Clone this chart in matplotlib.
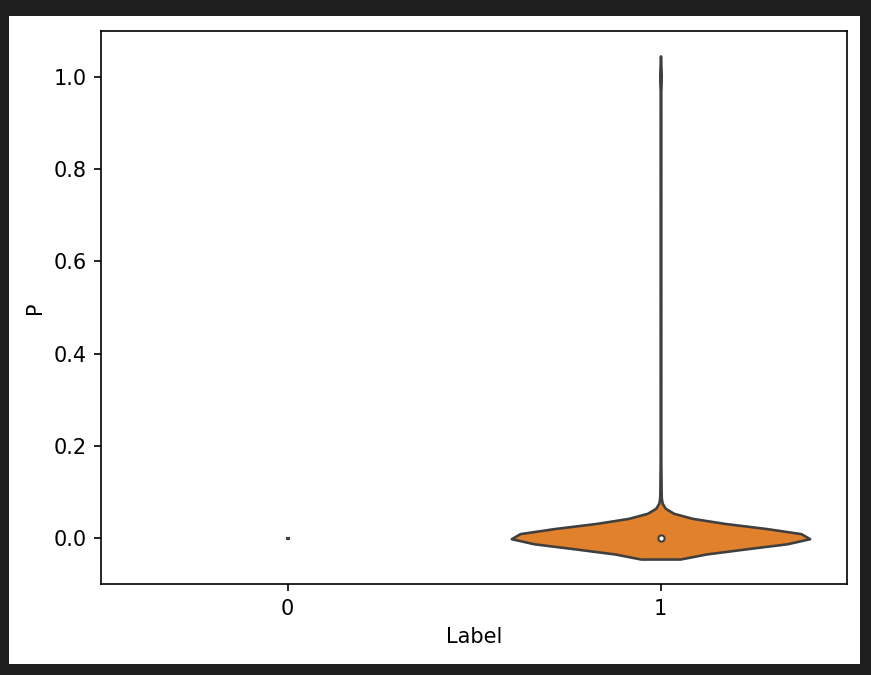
import matplotlib

matplotlib.use("Agg")

import matplotlib.pyplot as plt
import numpy as np
import pandas as pd
import seaborn as sns
from matplotlib.patches import Rectangle

# P values observed per label, stored as (value, count) pairs
label0_values = [0.0]
label0_counts = [4]

label1_values = [0.0, 0.01, 0.02, 0.03, 0.08, 0.1, 0.12, 0.15, 0.2, 0.3, 0.4, 0.5, 0.65, 0.8, 1.0]
label1_counts = [600, 15, 15, 12, 1, 1, 1, 1, 1, 1, 1, 1, 1, 1, 3]

labels = ["0", "1"]
palette = ["C0", "C1"]
GRAY = "#3f3f3f"
LW = 1.5

df = pd.DataFrame(
    {
        "Label": [labels[0]] * sum(label0_counts) + [labels[1]] * sum(label1_counts),
        "P": np.concatenate(
            [np.repeat(label0_values, label0_counts), np.repeat(label1_values, label1_counts)]
        ),
    }
)

DPI = 150
fig = plt.figure(figsize=(871 / DPI, 675 / DPI), dpi=DPI)
fig.patch.set_facecolor("#1e1e1e")
# white canvas inside the dark screenshot frame
fig.add_artist(
    Rectangle(
        (9 / 871, 1 - 664 / 675),
        851 / 871,
        648 / 675,
        transform=fig.transFigure,
        facecolor="white",
        edgecolor="none",
        zorder=-1,
    )
)

ax = fig.add_axes([101 / 871, 1 - 584 / 675, 746 / 871, 553 / 675])

# groups with a single unique value have no density; seaborn only gets the others
groups = {lab: df.loc[df["Label"] == lab, "P"].to_numpy() for lab in labels}
kde_labels = [lab for lab in labels if np.unique(groups[lab]).size > 1]
sns.violinplot(
    data=df[df["Label"].isin(kde_labels)],
    x="Label",
    y="P",
    hue="Label",
    order=labels,
    hue_order=labels,
    palette=palette,
    inner=None,
    linecolor=GRAY,
    legend=False,
    ax=ax,
)

max_count = max(len(v) for v in groups.values())
for pos, lab in enumerate(labels):
    vals = groups[lab]
    if np.unique(vals).size == 1:
        # single observation: short line scaled by count
        half = 0.4 * len(vals) / max_count
        ax.plot([pos - half, pos + half], [vals[0], vals[0]], color=GRAY, linewidth=LW)
        continue
    q25, q50, q75 = np.percentile(vals, [25, 50, 75])
    lim = 1.5 * (q75 - q25)
    h1 = vals[vals >= q25 - lim].min()
    h2 = vals[vals <= q75 + lim].max()
    ax.plot([pos, pos], [h1, h2], color=GRAY, linewidth=LW, solid_capstyle="butt")
    ax.plot([pos, pos], [q25, q75], color=GRAY, linewidth=LW * 3, solid_capstyle="butt")
    ax.scatter(pos, q50, zorder=3, color="white", edgecolor=GRAY, s=np.square(LW * 2))

ax.set_xlim(-0.5, 1.5)
ax.set_ylim(-0.1, 1.1)

fig.savefig("out.png", dpi=DPI, facecolor=fig.get_facecolor())
